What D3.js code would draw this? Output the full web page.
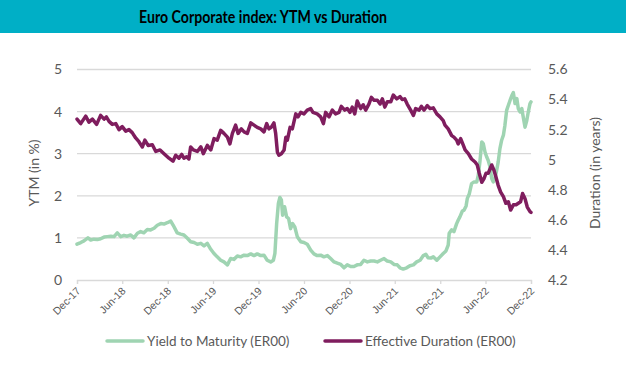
<!DOCTYPE html>
<html><head><meta charset="utf-8">
<script src="https://cdn.jsdelivr.net/npm/d3@7"></script>
<style>html,body{margin:0;padding:0;background:#fff;}svg{display:block;font-family:Lato,"Open Sans",sans-serif;}</style>
</head><body>
<svg id="c" width="626" height="366"></svg>
<script>
const titleText = "Euro Corporate index: YTM vs Duration";
const seriesNames = ["Yield to Maturity (ER00)", "Effective Duration (ER00)"];
const leftTitle = "YTM (in %)";
const rightTitle = "Duration (in years)";
const leftTicks = [0, 1, 2, 3, 4, 5];
const rightTicks = [4.2, 4.4, 4.6, 4.8, 5, 5.2, 5.4, 5.6];
const xTickLabels = ["Dec-17","Jun-18","Dec-18","Jun-19","Dec-19","Jun-20","Dec-20","Jun-21","Dec-21","Jun-22","Dec-22"];

const ytmDates = ["2017-12-01","2017-12-16","2017-12-29","2018-01-14","2018-01-25","2018-02-07","2018-02-21","2018-03-06","2018-03-20","2018-04-02","2018-04-16","2018-04-29","2018-05-12","2018-05-26","2018-06-08","2018-06-21","2018-07-05","2018-07-18","2018-08-01","2018-08-14","2018-08-27","2018-09-10","2018-09-23","2018-10-07","2018-10-20","2018-11-03","2018-11-16","2018-11-29","2018-12-13","2018-12-23","2019-01-08","2019-01-22","2019-02-04","2019-02-18","2019-03-03","2019-03-17",
"2019-03-30","2019-04-13","2019-04-26","2019-05-09","2019-05-23","2019-06-05","2019-06-18","2019-07-02","2019-07-15","2019-07-29","2019-08-11","2019-08-24","2019-09-07","2019-09-20","2019-10-04","2019-10-17","2019-10-31","2019-11-13","2019-11-26","2019-12-10","2019-12-23","2020-01-05","2020-01-19","2020-01-30","2020-02-05","2020-02-12","2020-02-19","2020-02-25","2020-03-02","2020-03-07","2020-03-15","2020-03-23","2020-03-31","2020-04-08","2020-04-16","2020-04-25","2020-05-05","2020-05-19","2020-06-01","2020-06-14","2020-06-28","2020-07-11",
"2020-07-24","2020-08-07","2020-08-20","2020-09-03","2020-09-16","2020-09-30","2020-10-13","2020-10-27","2020-11-09","2020-11-22","2020-12-06","2020-12-19","2021-01-01","2021-01-15","2021-01-28","2021-02-11","2021-02-24","2021-03-10","2021-03-23","2021-04-05","2021-04-19","2021-05-02","2021-05-16","2021-05-29","2021-06-11","2021-06-22","2021-07-05","2021-07-19","2021-08-01","2021-08-15","2021-08-28","2021-09-11","2021-09-24","2021-10-04","2021-10-13","2021-10-24","2021-11-03",
"2021-11-17","2021-11-30","2021-12-13","2021-12-24","2022-01-02","2022-01-06","2022-01-16","2022-01-25","2022-02-05","2022-02-11","2022-02-18","2022-02-28","2022-03-07","2022-03-15","2022-03-20","2022-03-28","2022-04-06","2022-04-16","2022-04-27","2022-05-03","2022-05-10","2022-05-17","2022-05-23","2022-05-30","2022-06-06","2022-06-12","2022-06-19","2022-06-26","2022-07-02","2022-07-09","2022-07-16","2022-07-22","2022-07-29","2022-08-05","2022-08-12","2022-08-18","2022-08-25","2022-09-01","2022-09-08","2022-09-15","2022-09-21","2022-09-28","2022-10-05","2022-10-11","2022-10-18","2022-10-25","2022-11-01","2022-11-07","2022-11-14","2022-11-20","2022-11-27","2022-12-01"];
const ytmValues = [0.85,0.89,0.93,1.00,0.95,0.97,0.96,0.98,1.02,1.03,1.04,1.03,1.12,1.03,1.06,1.04,1.07,1.00,1.11,1.15,1.12,1.20,1.19,1.23,1.30,1.34,1.33,1.36,1.40,1.30,1.12,1.09,1.07,0.99,0.91,0.89,
0.85,0.87,0.81,0.87,0.73,0.63,0.55,0.47,0.43,0.36,0.51,0.49,0.57,0.55,0.59,0.58,0.62,0.58,0.62,0.58,0.59,0.47,0.43,0.47,0.63,1.34,1.82,1.96,1.90,1.54,1.74,1.50,1.46,1.22,1.34,1.26,1.03,0.91,0.89,0.85,0.71,0.62,
0.58,0.59,0.55,0.58,0.51,0.43,0.40,0.37,0.29,0.36,0.32,0.32,0.36,0.37,0.47,0.43,0.45,0.45,0.43,0.47,0.51,0.45,0.43,0.37,0.36,0.29,0.26,0.29,0.34,0.36,0.43,0.47,0.58,0.61,0.53,0.52,0.55,
0.47,0.55,0.63,0.69,0.83,1.11,1.19,1.15,1.34,1.42,1.50,1.64,1.66,1.76,1.94,2.05,2.29,2.33,2.33,2.49,2.84,3.28,3.24,3.04,2.92,2.84,2.69,2.41,2.33,2.41,2.61,2.80,3.12,3.32,3.44,3.67,4.03,4.15,4.27,4.38,4.45,4.19,4.31,4.07,3.99,4.07,3.83,3.63,3.79,3.99,4.19,4.23];

const durDates = ["2017-12-01","2017-12-16","2018-01-05","2018-01-18","2018-02-01","2018-02-18","2018-03-06","2018-03-20","2018-03-29","2018-04-09","2018-04-22","2018-05-06","2018-05-19","2018-06-01","2018-06-15","2018-06-28","2018-07-11","2018-07-25","2018-08-07","2018-08-21","2018-08-31","2018-09-13","2018-09-30","2018-10-14","2018-10-31","2018-11-16","2018-12-06","2018-12-22","2019-01-02","2019-01-15","2019-01-26","2019-02-04","2019-02-15","2019-02-24","2019-03-03","2019-03-14",
"2019-03-30","2019-04-13","2019-04-23","2019-05-09","2019-05-23","2019-06-05","2019-06-18","2019-07-02","2019-07-15","2019-07-29","2019-08-08","2019-08-18","2019-08-31","2019-09-10","2019-09-23","2019-10-04","2019-10-17","2019-10-31","2019-11-13","2019-11-26","2019-12-10","2019-12-23","2020-01-03","2020-01-12","2020-01-21","2020-02-01","2020-02-08","2020-02-15","2020-02-21","2020-03-02","2020-03-13","2020-03-20","2020-03-26","2020-04-06","2020-04-15","2020-04-29","2020-05-08","2020-05-19","2020-06-01","2020-06-14","2020-06-28","2020-07-07",
"2020-07-24","2020-08-07","2020-08-18","2020-08-27","2020-09-10","2020-09-23","2020-10-06","2020-10-20","2020-10-29","2020-11-12","2020-11-22","2020-12-03","2020-12-12","2020-12-22","2021-01-01","2021-01-15","2021-01-25","2021-02-04","2021-02-17","2021-02-27","2021-03-10","2021-03-23","2021-04-03","2021-04-12","2021-04-22","2021-05-02","2021-05-16","2021-05-26","2021-06-09","2021-06-22","2021-07-01","2021-07-11","2021-07-21","2021-08-04","2021-08-15","2021-08-24","2021-09-07","2021-09-16","2021-09-27","2021-10-10","2021-10-21","2021-11-03",
"2021-11-17","2021-11-30","2021-12-13","2021-12-20","2022-01-02","2022-01-16","2022-01-25","2022-02-05","2022-02-11","2022-02-21","2022-03-04","2022-03-11","2022-03-24","2022-04-06","2022-04-20","2022-04-29","2022-05-07","2022-05-17","2022-05-26","2022-06-03","2022-06-12","2022-06-26","2022-07-05","2022-07-13","2022-07-22","2022-08-01","2022-08-12","2022-08-22","2022-09-01","2022-09-10","2022-09-21","2022-10-02","2022-10-11","2022-10-20","2022-10-28","2022-11-07","2022-11-16","2022-11-27","2022-12-01"];
const durValues = [5.27,5.24,5.29,5.25,5.27,5.235,5.295,5.27,5.285,5.255,5.235,5.24,5.20,5.22,5.19,5.20,5.18,5.145,5.12,5.085,5.13,5.095,5.10,5.055,5.065,5.04,5.01,4.99,5.03,5.01,5.035,5.01,5.02,5.005,5.085,5.065,
5.055,5.085,5.04,5.095,5.065,5.14,5.13,5.195,5.175,5.15,5.105,5.175,5.23,5.175,5.205,5.185,5.175,5.245,5.23,5.215,5.205,5.185,5.24,5.205,5.215,5.245,5.175,5.05,5.03,5.04,5.065,5.15,5.13,5.215,5.205,5.305,5.285,5.315,5.305,5.33,5.34,5.315,
5.305,5.285,5.24,5.315,5.285,5.33,5.305,5.315,5.355,5.33,5.34,5.315,5.35,5.305,5.39,5.34,5.365,5.33,5.37,5.415,5.395,5.395,5.37,5.405,5.35,5.385,5.385,5.43,5.405,5.42,5.40,5.405,5.37,5.33,5.295,5.34,5.33,5.355,5.33,5.36,5.34,5.345,
5.305,5.285,5.26,5.23,5.205,5.16,5.15,5.13,5.105,5.14,5.095,5.065,5.04,5.005,4.985,4.965,4.91,4.85,4.875,4.91,4.91,4.965,4.93,4.885,4.83,4.785,4.755,4.71,4.72,4.665,4.70,4.70,4.71,4.72,4.775,4.74,4.685,4.655,4.65];

const colors = ["#9FD4B2", "#7F1D5E"];

const parse = d3.timeParse("%Y-%m-%d");
const svg = d3.select("#c");
const W = 626, H = 366;
const m = {l: 77, r: 531, t: 69.5, b: 280};

// title bar
svg.append("rect").attr("x",0).attr("y",0).attr("width",W).attr("height",33).attr("fill","#00AFC6");
svg.append("text").attr("x",263).attr("y",22.5).attr("text-anchor","middle")
  .attr("font-size",16.5).attr("font-weight","bold").attr("fill","#000")
  .attr("textLength",248).attr("lengthAdjust","spacingAndGlyphs").text(titleText);

const start = parse("2017-12-01"), end = parse("2022-12-01");
const x = d3.scaleTime().domain([start, end]).range([m.l, m.r]);
const yL = d3.scaleLinear().domain([0,5]).range([m.b, m.t]);
const yR = d3.scaleLinear().domain([4.2,5.6]).range([m.b, m.t]);

// gridlines
svg.append("g").selectAll("line").data(leftTicks.filter(d=>d>0)).join("line")
  .attr("x1",m.l).attr("x2",m.r).attr("y1",d=>yL(d)).attr("y2",d=>yL(d))
  .attr("stroke","#D9D9D9").attr("stroke-width",1.3);

// x axis
const xTickVals = xTickLabels.map((_,i)=>d3.timeMonth.offset(start, 6*i));
const gx = svg.append("g").attr("transform",`translate(0,${m.b})`)
  .call(d3.axisBottom(x).tickValues(xTickVals).tickFormat((d,i)=>xTickLabels[i]).tickSizeOuter(0).tickSize(4));
gx.select(".domain").attr("stroke","#D9D9D9").attr("stroke-width",1.3);
gx.selectAll(".tick line").attr("stroke","#D9D9D9").attr("stroke-width",1.3);
gx.selectAll(".tick text").attr("font-size",10.5).attr("fill","#595959")
  .attr("text-anchor","end").attr("x",0).attr("y",0).attr("dy","0.35em")
  .attr("transform","translate(1,9) rotate(-45)");

// left axis labels
svg.append("g").selectAll("text").data(leftTicks).join("text")
  .attr("x",62).attr("y",d=>yL(d)).attr("dy","0.35em").attr("text-anchor","end")
  .attr("font-size",14).attr("fill","#595959").text(d=>d);
// right axis labels
svg.append("g").selectAll("text").data(rightTicks).join("text")
  .attr("x",548).attr("y",d=>yR(d)).attr("dy","0.35em").attr("text-anchor","start")
  .attr("font-size",14).attr("fill","#595959").text(d=>d3.format("~g")(d));

// axis titles
svg.append("text").attr("transform","translate(39,173) rotate(-90)").attr("text-anchor","middle")
  .attr("font-size",14).attr("fill","#595959").text(leftTitle);
svg.append("text").attr("transform","translate(600,173) rotate(-90)").attr("text-anchor","middle")
  .attr("font-size",14).attr("fill","#595959").text(rightTitle);

// lines
const ytm = ytmDates.map((d,i)=>({date:parse(d), v:ytmValues[i]})).filter(d=>d.v!=null);
const dur = durDates.map((d,i)=>({date:parse(d), v:durValues[i]})).filter(d=>d.v!=null);
svg.append("path").datum(ytm).attr("fill","none").attr("stroke",colors[0]).attr("stroke-width",3.5)
  .attr("stroke-linejoin","round").attr("stroke-linecap","round")
  .attr("d", d3.line().x(d=>x(d.date)).y(d=>yL(d.v)));
svg.append("path").datum(dur).attr("fill","none").attr("stroke",colors[1]).attr("stroke-width",3.5)
  .attr("stroke-linejoin","round").attr("stroke-linecap","round")
  .attr("d", d3.line().x(d=>x(d.date)).y(d=>yR(d.v)));

// legend
const leg = [{x1:107,x2:143,tx:147},{x1:325,x2:361,tx:365}];
leg.forEach((l,i)=>{
  svg.append("line").attr("x1",l.x1).attr("x2",l.x2).attr("y1",341).attr("y2",341)
    .attr("stroke",colors[i]).attr("stroke-width",3.5).attr("stroke-linecap","round");
  svg.append("text").attr("x",l.tx).attr("y",341).attr("dy","0.35em").attr("font-size",13.5)
    .attr("fill","#595959").text(seriesNames[i]);
});
</script>
</body></html>
